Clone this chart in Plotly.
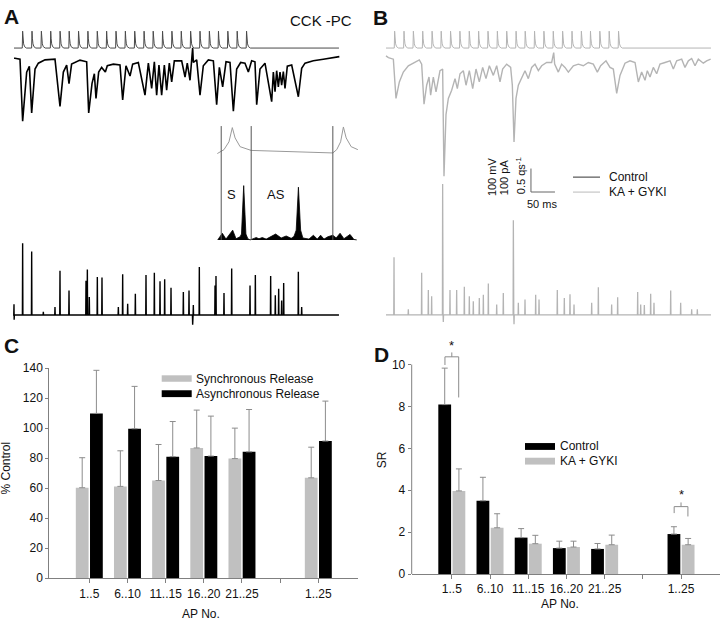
import plotly.graph_objects as go

W, H = 720, 628
FONT = "Liberation Sans, Arial, Helvetica, sans-serif"

# ---------------- Panel C / D bar data ----------------
GROUPS = ["1..5", "6..10", "11..15", "16..20", "21..25", "1..25"]
GROUP_POS = [0, 1, 2, 3, 4, 6]
GAP_POS = [5]

C_SYNC = [60.3, 61.2, 65.1, 86.8, 79.7, 66.9]
C_SYNC_ERR = [20.0, 23.7, 24.0, 25.2, 20.3, 20.4]
C_ASYNC = [109.8, 99.6, 81.0, 81.4, 84.2, 91.4]
C_ASYNC_ERR = [28.7, 28.2, 23.4, 26.6, 28.2, 26.6]

D_CTRL = [8.09, 3.50, 1.74, 1.24, 1.20, 1.91]
D_CTRL_ERR = [1.74, 1.12, 0.43, 0.33, 0.26, 0.35]
D_KA = [3.97, 2.21, 1.45, 1.29, 1.40, 1.40]
D_KA_ERR = [1.05, 0.67, 0.40, 0.28, 0.46, 0.30]

# significance brackets in D: group, top, left leg end, right leg end, tick top, star
SIG_GROUP = [0, 6]
SIG_TOP = [10.37, 3.22]
SIG_LEFT = [9.98, 2.91]
SIG_RIGHT = [8.43, 2.75]
SIG_TICK = [10.58, 3.42]
SIG_STAR = [10.9, 3.81]
SIG_HALF = 0.18

# ---------------- Traces (time in ms) ----------------
TRACE_END = 677
AP_TIMES = [18, 37.5, 57, 76.5, 96, 115, 134.5, 154, 173.5, 193, 212.5, 232,
            251.5, 271, 290, 309.5, 329, 348.5, 368, 387.5, 407, 426, 445.5,
            465, 484.5]
AP_REST = -65
AP_SHAPE_DT = [-0.8, 0.0, 0.8, 2.0, 4.0, 8.0]
AP_SHAPE_DV = [0, 72, 42, 18, 6, 0]

A_EPSC_T = [0, 2, 12.5, 18, 26.4, 32, 36.8, 43.8, 50.7, 64.6, 85.4, 95.8, 102.8,
            109.7, 114.6, 120, 137.5, 151.4, 155.6, 162.5, 167.4, 170.8, 176.4,
            182.6, 190.3, 194.4, 207, 220.8, 226.4, 233.3, 241.7, 247.2, 259,
            272.9, 279.9, 286.8, 292.4, 297.2, 302, 307.6, 313.2, 318, 323.6,
            328.5, 334, 349.3, 356.3, 361, 366.7, 370.8, 372.2, 373.6, 380.6,
            387.5, 394.4, 404.9, 415.3, 422.2, 427.8, 434.7, 441.7, 450, 457,
            463.9, 472.2, 481.2, 488.2, 495.1, 502, 505.6, 512.5, 522.9, 536.8,
            540.3, 543.8, 547.2, 550.7, 554.2, 557.6, 561.1, 564.6, 569.4, 578.5,
            592.4, 599.3, 606.3, 623.6, 644.4, 665.3, 677.8]
A_EPSC_PA = [-3, -3, -7, -271, -62, -37, -236, -49, -24, -10, -7, -208, -62,
             -32, -111, -28, -11, -18, -236, -111, -69, -174, -62, -42, -62,
             -35, -28, -32, -181, -35, -79, -28, -21, -160, -24, -132, -18,
             -160, -32, -160, -32, -139, -24, -104, -14, -14, -83, -24, -97,
             -14, 42, -21, -10, -160, -35, -10, -14, -201, -42, -125, -18, -21,
             -229, -49, -21, -24, -62, -14, -18, -201, -49, -24, -188, -62,
             -146, -56, -125, -62, -118, -60, -132, -37, -32, -167, -46, -24,
             -14, -7, 0, 4]

B_EPSC_T = [0, 5, 15.3, 20.8, 27.8, 36.1, 46.5, 56.9, 69.4, 74.3, 79.2, 84.7,
            89.6, 93, 98.6, 104.2, 112.5, 118, 120.8, 125, 129.9, 136.8, 143.8,
            148.6, 154.2, 161.1, 166.7, 173.6, 180.6, 187.5, 194.4, 201.4,
            208.3, 215.3, 223.6, 230.6, 237.5, 243, 251.4, 259.7, 263.2, 266.7,
            270.8, 275.7, 282.6, 289.6, 296.5, 303.5, 310.4, 317.4, 324.3,
            334.7, 345.1, 349.4, 351.4, 359, 365.9, 372.9, 379.9, 390.3, 400.7,
            411.1, 421.5, 431.9, 440.3, 447.2, 458.3, 466.7, 473.6, 480.6,
            487.5, 497.9, 508.3, 518.8, 525.7, 532.6, 539.6, 544.4, 550, 556.9,
            563.9, 570.8, 581.3, 591.7, 598.6, 605.6, 616, 622.9, 629.9, 636.8,
            643.8, 650.7, 661.1, 668, 676.4]
B_EPSC_PA = [7, 0, -7, -174, -104, -62, -35, -24, -10, -28, -199, -118, -83,
             -160, -83, -146, -56, -49, -506, -243, -174, -139, -90, -132, -69,
             -56, -118, -56, -132, -49, -104, -42, -90, -35, -76, -35, -104,
             -49, -28, -42, -118, -360, -174, -118, -83, -56, -90, -42, -28,
             -56, -35, -21, -21, 21, -28, -62, -28, -42, -62, -35, -28, -35,
             -21, -28, -62, -35, -14, -42, -49, -153, -76, -24, -14, -21, -104,
             -62, -97, -56, -83, -42, -69, -28, -21, -14, -49, -14, -7, -42,
             -14, -4, -35, -7, -24, -14, -7]

# release-rate (qs^-1) events: time (ms), height
A_QS_T = [0, 0.3, 18, 36.8, 61.1, 85.4, 95.8, 114.6, 150, 152.8, 156.9, 173.6,
          183.3, 217.4, 226.4, 236.8, 252.8, 275, 292.4, 304.2, 313.9, 327.1,
          352.8, 364.6, 372.2, 373.6, 386.1, 418.8, 420.8, 437.5, 453.5, 491.7,
          502.8, 534.7, 544.4, 551.4, 557.6, 561.8, 592.4, 599.3]
A_QS_H = [0.23, -0.1, 1.53, 1.35, 0.07, 0.17, 0.94, 0.52, 0.73, 0.97, 0.38,
          0.81, 0.80, 0.17, 0.87, 0.24, 0.45, 0.85, 0.90, 0.72, 0.76, 0.58,
          0.49, 0.52, -0.21, 0.21, 1.02, 0.63, 0.83, 0.47, 0.99, 0.63, 0.85,
          0.83, 0.42, 0.56, 0.31, 0.68, 0.92, 0.17]
B_QS_T = [16.7, 46.5, 74.3, 88.2, 95.1, 118, 119.4, 133.3, 147.2, 163.2, 173.6,
          181.9, 194.4, 202.8, 213.2, 230.6, 244.4, 265.3, 266.7, 275.7, 289.6,
          311.8, 318.8, 356.9, 371.5, 383.3, 391.7, 428.5, 442.4, 470.1, 482.6,
          524.3, 530.6, 538.2, 551.4, 558.3, 593.1, 613.9, 636.8, 648.6]
B_QS_H = [1.23, 0.12, 0.90, 0.53, 0.40, 2.79, -0.15, 0.53, 0.53, 0.60, 0.40,
          0.29, 0.36, 0.43, 0.67, 0.22, 0.47, 2.02, -0.2, 0.26, 0.33, 0.43,
          0.33, 0.53, 0.36, 0.44, 0.22, 0.26, 0.59, 0.22, 0.375, 0.49, 0.22,
          0.21, 0.45, 0.26, 0.52, 0.26, 0.12, 0.12]

# inset: one AP interval (ms), membrane potential (mV) and release histogram
INSET_AP_T = [-0.7, 0.5, 1.4, 2.0, 2.5, 3.4, 5.4, 12.4, 20.1, 20.8, 21.5, 22.0,
              22.5, 23.4, 24.6]
INSET_AP_MV = [-75, -62.5, -37.5, 8, -25, -53, -65, -69, -73, -62.5, -37.5,
               10, -25, -53, -62.5]
INSET_HIST_T = [-0.63, 0.2, 0.86, 2.07, 2.67, 3.4, 3.65, 4.05, 4.45, 4.8, 5.2,
                6.3, 6.8, 7.4, 8.1, 9.8, 10.8, 11.7, 12.6, 13.1, 13.5, 13.9,
                14.3, 14.7, 15.8, 16.6, 17.3, 17.9, 18.5, 19.2, 20.1, 20.7,
                21.4, 22.1, 23.2, 23.9, 24.4]
INSET_HIST_N = [0, 1.7, 0.2, 2.5, 0.3, 0.8, 1.5, 13.9, 1.5, 0.3, 0, 0.6, 0.3,
                0.6, 0.2, 1.5, 0.5, 1.0, 0.4, 0.9, 2.5, 13.5, 2.5, 0.5, 0.2,
                1.2, 0.2, 1.2, 0.2, 0.8, 1.2, 0.5, 1.7, 0.3, 1.4, 0.1, 0]
INSET_WINDOWS = [0, 5.4, 20.1]
INSET_WINDOW_TOP = 29.15

SCALE_T = 50      # ms
SCALE_PA = 100    # pA
SCALE_T0 = 302
SCALE_PA0 = -573

BLACK = "#000000"
GRAY_BAR = "#c0c0c0"
GRAY_TRACE = "#b4b4b4"
AXIS_GRAY = "#808080"
ERR_GRAY = "#8c8c8c"


def px_x(x):
    return x / W


def px_y(y):
    return 1 - y / H


def ap_trace(times):
    xs, ys = [0], [AP_REST]
    for t in times:
        for dt, dv in zip(AP_SHAPE_DT, AP_SHAPE_DV):
            xs.append(t + dt)
            ys.append(AP_REST + dv)
    xs.append(TRACE_END)
    ys.append(AP_REST)
    return xs, ys


def rate_trace(times, heights):
    pairs = sorted(zip(times, heights))
    xs, ys = [0], [0]
    for t, h in pairs:
        xs += [t - 0.5, t, t + 0.5]
        ys += [0, h, 0]
    xs.append(TRACE_END)
    ys.append(0)
    return xs, ys


fig = go.Figure()

# ---- Panel A traces
x, y = ap_trace(AP_TIMES)
fig.add_trace(go.Scatter(x=x, y=y, xaxis="x", yaxis="y", mode="lines",
                         line=dict(color="#4a4a4a", width=1)))
fig.add_trace(go.Scatter(x=A_EPSC_T, y=A_EPSC_PA, xaxis="x", yaxis="y2",
                         mode="lines", line=dict(color=BLACK, width=1.6)))
x, y = rate_trace(A_QS_T, A_QS_H)
fig.add_trace(go.Scatter(x=x, y=y, xaxis="x", yaxis="y3", mode="lines",
                         line=dict(color=BLACK, width=1.4)))

# ---- Panel B traces
x, y = ap_trace(AP_TIMES)
fig.add_trace(go.Scatter(x=x, y=y, xaxis="x2", yaxis="y4", mode="lines",
                         line=dict(color=GRAY_TRACE, width=1)))
fig.add_trace(go.Scatter(x=B_EPSC_T, y=B_EPSC_PA, xaxis="x2", yaxis="y5",
                         mode="lines", line=dict(color=GRAY_TRACE, width=1.4)))
x, y = rate_trace(B_QS_T, B_QS_H)
fig.add_trace(go.Scatter(x=x, y=y, xaxis="x2", yaxis="y6", mode="lines",
                         line=dict(color=GRAY_TRACE, width=1.3)))
# scale bar
fig.add_trace(go.Scatter(x=[SCALE_T0, SCALE_T0, SCALE_T0 + SCALE_T],
                         y=[SCALE_PA0 + SCALE_PA, SCALE_PA0, SCALE_PA0],
                         xaxis="x2", yaxis="y5", mode="lines",
                         line=dict(color="#666666", width=1)))

# ---- Inset
fig.add_trace(go.Scatter(x=INSET_AP_T, y=INSET_AP_MV, xaxis="x3", yaxis="y7",
                         mode="lines", line=dict(color="#9a9a9a", width=1)))
fig.add_trace(go.Scatter(x=INSET_HIST_T, y=INSET_HIST_N, xaxis="x3", yaxis="y8",
                         mode="lines", fill="tozeroy", fillcolor=BLACK,
                         line=dict(color=BLACK, width=0.8)))


# ---- Panel C bars
def err(arr):
    return dict(type="data", array=arr, arrayminus=[0] * len(arr),
                symmetric=False, color=ERR_GRAY, thickness=1, width=3)


fig.add_trace(go.Bar(x=GROUP_POS, y=C_SYNC, xaxis="x4", yaxis="y9",
                     marker=dict(color=GRAY_BAR, line=dict(width=0)),
                     error_y=err(C_SYNC_ERR), name="Synchronous Release"))
fig.add_trace(go.Bar(x=GROUP_POS, y=C_ASYNC, xaxis="x4", yaxis="y9",
                     marker=dict(color=BLACK, line=dict(width=0)),
                     error_y=err(C_ASYNC_ERR), name="Asynchronous Release"))

# ---- Panel D bars
fig.add_trace(go.Bar(x=GROUP_POS, y=D_CTRL, xaxis="x5", yaxis="y10",
                     marker=dict(color=BLACK, line=dict(width=0)),
                     error_y=err(D_CTRL_ERR), name="Control"))
fig.add_trace(go.Bar(x=GROUP_POS, y=D_KA, xaxis="x5", yaxis="y10",
                     marker=dict(color=GRAY_BAR, line=dict(width=0)),
                     error_y=err(D_KA_ERR), name="KA + GYKI"))

# significance brackets
for g, top, lft, rgt, tick in zip(SIG_GROUP, SIG_TOP, SIG_LEFT, SIG_RIGHT, SIG_TICK):
    fig.add_trace(go.Scatter(x=[g - SIG_HALF, g - SIG_HALF, g + SIG_HALF, g + SIG_HALF],
                             y=[lft, top, top, rgt], xaxis="x5", yaxis="y10",
                             mode="lines", line=dict(color=ERR_GRAY, width=1)))
    fig.add_trace(go.Scatter(x=[g, g], y=[top, tick], xaxis="x5", yaxis="y10",
                             mode="lines", line=dict(color=ERR_GRAY, width=1)))

# ---------------- Layout / axes ----------------
hidden = dict(visible=False, showgrid=False, zeroline=False, fixedrange=True)
trace_dom = [px_y(335), 1]

AP_RANGE = [-1285.8, 110]
PA_RANGE = [-1180.4, 215.4]
QS_RANGE = [-0.417, 6.5625]

tickfont = dict(family=FONT, size=12, color="#111111")


def bar_xaxis(domain, rng, anchor):
    return dict(domain=domain, range=rng, anchor=anchor, showline=True,
                linecolor=AXIS_GRAY, linewidth=1, ticks="outside", ticklen=4,
                tickcolor=AXIS_GRAY, tickvals=GROUP_POS, ticktext=GROUPS,
                minor=dict(tickvals=GAP_POS, ticks="outside", ticklen=4,
                           tickcolor=AXIS_GRAY, showgrid=False),
                tickfont=tickfont, showgrid=False, zeroline=False,
                fixedrange=True)


fig.update_layout(
    width=W, height=H, autosize=False, margin=dict(l=0, r=0, t=0, b=0, pad=0),
    paper_bgcolor="white", plot_bgcolor="rgba(0,0,0,0)",
    showlegend=False, barmode="group", bargap=0.256, bargroupgap=0.1,
    hovermode=False,
    font=dict(family=FONT, size=12, color="#111111"),
    xaxis=dict(hidden, domain=[0, 0.5], range=[-29.17, 720.83], anchor="y"),
    xaxis2=dict(hidden, domain=[0.5, 1], range=[-54.17, 695.83], anchor="y4"),
    yaxis=dict(hidden, domain=trace_dom, range=AP_RANGE, anchor="x"),
    yaxis2=dict(hidden, range=PA_RANGE, overlaying="y", anchor="x"),
    yaxis3=dict(hidden, range=QS_RANGE, overlaying="y", anchor="x"),
    yaxis4=dict(hidden, domain=trace_dom, range=AP_RANGE, anchor="x2"),
    yaxis5=dict(hidden, range=PA_RANGE, overlaying="y4", anchor="x2"),
    yaxis6=dict(hidden, range=QS_RANGE, overlaying="y4", anchor="x2"),
    xaxis3=dict(hidden, domain=[px_x(210), px_x(365)], range=[-2.018, 25.89], anchor="y7"),
    yaxis7=dict(hidden, domain=[px_y(245), px_y(110)], range=[-372.2, 49.7], anchor="x3"),
    yaxis8=dict(hidden, range=[-1.7, 32.1], overlaying="y7", anchor="x3"),
    xaxis4=bar_xaxis([px_x(49.3), px_x(358)], [-1.048, 7.04], "y9"),
    yaxis9=dict(domain=[px_y(584.3), px_y(369.3)], range=[0, 140], anchor="x4",
                showline=True, linecolor=AXIS_GRAY, linewidth=1, ticks="outside",
                ticklen=3, tickcolor=AXIS_GRAY, tickvals=list(range(0, 141, 20)),
                tickfont=tickfont, showgrid=False, zeroline=False, fixedrange=True),
    xaxis5=bar_xaxis([px_x(411.7), 1], [-1.05, 7.02], "y10"),
    yaxis10=dict(domain=[px_y(580), px_y(344.3)], range=[0, 11], anchor="x5",
                 showline=False, ticks="outside", ticklen=3, tickcolor=AXIS_GRAY,
                 tickvals=list(range(0, 11, 2)), tickfont=tickfont,
                 showgrid=False, zeroline=False, fixedrange=True),
)

shapes = []
# D y axis line (only up to 10)
shapes.append(dict(type="line", xref="x5 domain", yref="y10", x0=0, x1=0, y0=0, y1=10,
                   line=dict(color=AXIS_GRAY, width=1)))
# inset window lines
for t in INSET_WINDOWS:
    shapes.append(dict(type="line", xref="x3", yref="y8", x0=t, x1=t, y0=0,
                       y1=INSET_WINDOW_TOP, line=dict(color="#555555", width=1)))


def rect(x0, y0, x1, y1, color):
    return dict(type="rect", xref="paper", yref="paper", x0=px_x(x0), x1=px_x(x1),
                y0=px_y(y1), y1=px_y(y0), fillcolor=color, line=dict(width=0))


def hline(x0, x1, y, color):
    return dict(type="line", xref="paper", yref="paper", x0=px_x(x0), x1=px_x(x1),
                y0=px_y(y), y1=px_y(y), line=dict(color=color, width=1))


shapes += [
    rect(161.7, 376.7, 191.7, 383.3, GRAY_BAR),
    rect(161.7, 392, 191.7, 399, BLACK),
    rect(525, 446, 555, 453, BLACK),
    rect(525, 461, 555, 468, GRAY_BAR),
    hline(573, 600, 174, "#333333"),
    hline(573, 600, 189.3, "#bbbbbb"),
]

annotations = []


def ann(text, x, y, size=12, bold=False, angle=0, xanchor="center", color="#111111"):
    annotations.append(dict(
        text=f"<b>{text}</b>" if bold else text, x=px_x(x), y=px_y(y),
        xref="paper", yref="paper", showarrow=False, xanchor=xanchor,
        yanchor="middle", textangle=angle,
        font=dict(family=FONT, size=size, color=color)))


ann("A", 11, 10, 21, True)
ann("B", 380.5, 10.5, 21, True)
ann("C", 11, 346.5, 21, True)
ann("D", 381, 355, 21, True)
ann("CCK -PC", 321, 14, 15)
ann("S", 231, 191.7, 13)
ann("AS", 276, 191.7, 13)
ann("100 mV", 492, 174, 11, angle=-90)
ann("100 pA", 503.5, 173.5, 11, angle=-90)
ann("0.5 qs<sup>-1</sup>", 521, 173, 11, angle=-90)
ann("50 ms", 541.7, 201.7, 11)
ann("Control", 607, 174, 12, xanchor="left")
ann("KA + GYKI", 607, 189.5, 12, xanchor="left")
ann("Synchronous Release", 194, 380, 12, xanchor="left")
ann("Asynchronous Release", 194, 395.5, 12, xanchor="left")
ann("Control", 558, 449.5, 12, xanchor="left")
ann("KA + GYKI", 558, 464.5, 12, xanchor="left")
ann("% Control", 6, 472, 12, angle=-90)
ann("SR", 381.5, 463, 12, angle=-90)
ann("AP No.", 200.8, 621, 12)
ann("AP No.", 560, 611, 12)

for g, s in zip(SIG_GROUP, SIG_STAR):
    annotations.append(dict(text="*", x=g, y=s, xref="x5", yref="y10",
                            showarrow=False, font=dict(family=FONT, size=13, color="#111111")))

fig.update_layout(shapes=shapes, annotations=annotations)

fig.write_html(
    "out.html",
    config={"displayModeBar": False, "staticPlot": True},
    post_script="document.body.style.margin='0';document.body.style.padding='0';"
                "document.body.style.overflow='hidden';"
                "document.documentElement.style.overflow='hidden';",
)
